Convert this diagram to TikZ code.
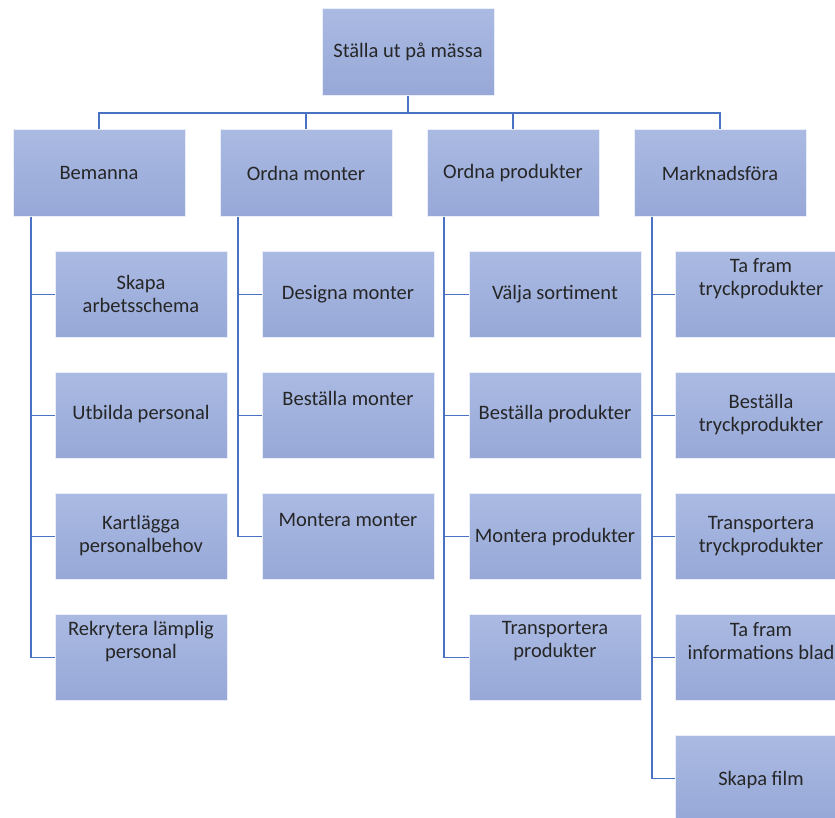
\documentclass[tikz,border=0pt]{standalone}
\usepackage{fontspec}
\setmainfont{Carlito}
\usetikzlibrary{calc}
\definecolor{boxtop}{HTML}{AABAE2}
\definecolor{boxbot}{HTML}{97A8D8}
\definecolor{linec}{HTML}{4A72C2}
\definecolor{txtc}{HTML}{262626}
\begin{document}
\begin{tikzpicture}[x=1pt,y=-1pt,
  box/.style={rectangle, minimum width=172pt, minimum height=86pt, inner sep=0pt,
    top color=boxtop, bottom color=boxbot, draw=white!75!boxtop, line width=0.6pt},
  txt/.style={font=\fontsize{20.5}{23}\selectfont, text=txtc, align=center, inner sep=0pt},
  conn/.style={draw=linec, line width=1.8pt}]
\useasboundingbox (0,0) rectangle (835,818);
\clip (0,0) rectangle (835,818);
\fill[white] (0,0) rectangle (835,818);

% top
\node[box, minimum height=87pt] (top) at (408,52) {};
\node[txt] (ttop) at (top.center) {Ställa ut på mässa};

% parents
\node[box, minimum height=87pt] (p1) at (99,173) {};
\node[box, minimum height=87pt] (p2) at (306,173) {};
\node[box, minimum height=87pt] (p3) at (513,173) {};
\node[box, minimum height=87pt] (p4) at (720,173) {};
\node[txt] (tp1) at (p1.center) {Bemanna};
\node[txt] (tp2) at (p2.center) {Ordna monter};
\node[txt] (tp3) at (p3.center) {Ordna produkter};
\node[txt] (tp4) at (p4.center) {Marknadsföra};

% children Bemanna
\node[box] (c11) at (141,294.5) {};
\node[box] (c12) at (141,415.5) {};
\node[box] (c13) at (141,536.5) {};
\node[box] (c14) at (141,657.5) {};
\node[txt] (t11) at ($(c11.center)+(0,-1)$) {Skapa\\arbetsschema};
\node[txt] (t12) at ($(c12.center)+(0,-1)$) {Utbilda personal};
\node[txt] (t13) at ($(c13.center)+(0,-1)$) {Kartlägga\\personalbehov};
\node[txt] (t14) at ($(c14.center)+(0,-16)$) {Rekrytera lämplig\\personal};

% children Ordna monter
\node[box] (c21) at (348,294.5) {};
\node[box] (c22) at (348,415.5) {};
\node[box] (c23) at (348,536.5) {};
\node[txt] (t21) at ($(c21.center)+(0,0)$) {Designa monter};
\node[txt] (t22) at ($(c22.center)+(0,-17)$) {Beställa monter};
\node[txt] (t23) at ($(c23.center)+(0,-17)$) {Montera monter};

% children Ordna produkter
\node[box] (c31) at (555,294.5) {};
\node[box] (c32) at (555,415.5) {};
\node[box] (c33) at (555,536.5) {};
\node[box] (c34) at (555,657.5) {};
\node[txt] (t31) at ($(c31.center)+(0,0)$) {Välja sortiment};
\node[txt] (t32) at ($(c32.center)+(0,-1)$) {Beställa produkter};
\node[txt] (t33) at ($(c33.center)+(0,1)$) {Montera produkter};
\node[txt] (t34) at ($(c34.center)+(0,-16)$) {Transportera\\produkter};

% children Marknadsföra
\node[box] (c41) at (761,294.5) {};
\node[box] (c42) at (761,415.5) {};
\node[box] (c43) at (761,536.5) {};
\node[box] (c44) at (761,657.5) {};
\node[box] (c45) at (761,778.5) {};
\node[txt] (t41) at ($(c41.center)+(0,-15.5)$) {Ta fram\\tryckprodukter};
\node[txt] (t42) at ($(c42.center)+(0,-0.5)$) {Beställa\\tryckprodukter};
\node[txt] (t43) at ($(c43.center)+(0,-0.5)$) {Transportera\\tryckprodukter};
\node[txt] (t44) at ($(c44.center)+(0,-16)$) {Ta fram\\informations blad};
\node[txt] (t45) at ($(c45.center)+(0,1.5)$) {Skapa film};

% top connectors
\coordinate (hub) at (408,113);
\draw[conn] (top.south) -- (hub);
\draw[conn] (p1.north) -- (p1.north |- hub) -- (p4.north |- hub) -- (p4.north);
\draw[conn] (p2.north) -- (p2.north |- hub);
\draw[conn] (p3.north) -- (p3.north |- hub);

% spines
\coordinate (s1) at ($(p1.south west)+(18.5,0)$);
\coordinate (s2) at ($(p2.south west)+(18.5,0)$);
\coordinate (s3) at ($(p3.south west)+(17.5,0)$);
\coordinate (s4) at ($(p4.south west)+(18.5,0)$);
\foreach \c in {c11,c12,c13,c14} \draw[conn] (s1) |- (\c.west);
\foreach \c in {c21,c22,c23} \draw[conn] (s2) |- (\c.west);
\foreach \c in {c31,c32,c33,c34} \draw[conn] (s3) |- (\c.west);
\foreach \c in {c41,c42,c43,c44,c45} \draw[conn] (s4) |- (\c.west);
\end{tikzpicture}
\end{document}
